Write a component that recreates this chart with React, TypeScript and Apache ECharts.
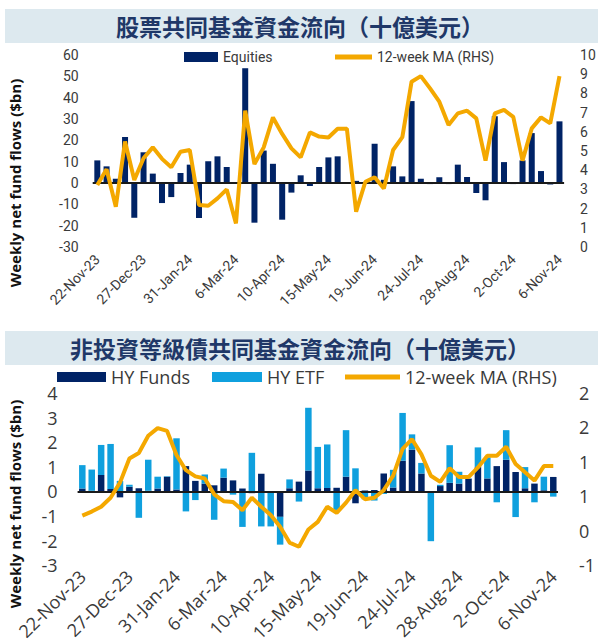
import React, { useEffect, useRef } from "react";
import * as echarts from "echarts";

const weeks = [
  "22-Nov-23", "29-Nov-23", "6-Dec-23", "13-Dec-23", "20-Dec-23", "27-Dec-23",
  "3-Jan-24", "10-Jan-24", "17-Jan-24", "24-Jan-24", "31-Jan-24",
  "7-Feb-24", "14-Feb-24", "21-Feb-24", "28-Feb-24",
  "6-Mar-24", "13-Mar-24", "20-Mar-24", "27-Mar-24",
  "3-Apr-24", "10-Apr-24", "17-Apr-24", "24-Apr-24",
  "1-May-24", "8-May-24", "15-May-24", "22-May-24", "29-May-24",
  "5-Jun-24", "12-Jun-24", "19-Jun-24", "26-Jun-24",
  "3-Jul-24", "10-Jul-24", "17-Jul-24", "24-Jul-24", "31-Jul-24",
  "7-Aug-24", "14-Aug-24", "21-Aug-24", "28-Aug-24",
  "4-Sep-24", "11-Sep-24", "18-Sep-24", "25-Sep-24",
  "2-Oct-24", "9-Oct-24", "16-Oct-24", "23-Oct-24", "30-Oct-24",
  "6-Nov-24",
];

const equities = [
  10.6, 7.8, 2, 21.6, -16.3, 14.4, 4.4, -9.4, -6.6, 4.7,
  8.6, -16.4, 10.2, 12.5, 7.5, 0.3, 53.8, -18.6, 15.2, 9,
  -17.2, -4.5, 3.6, -1.4, 7.5, 12, 12.5, 0.4, 1, 0,
  18.4, 1.5, 7.8, 3.1, 38.4, 2, -0.5, 2.7, -0.5, 8.6,
  2.8, -4.7, 8.1 * -1, 31.3, 9.8, -0.5, 10.6, 23.4, 5.6, -0.7,
  28.9,
];

const equitiesMA = [
  3.23, 4.05, 2.1, 5.49, 3.49, 4.62, 5.19, 4.59, 4.15, 4.96,
  5.05, 2.19, 2.15, 2.53, 3.0, 1.23, 7.1, 4.32, 5.19, 6.75,
  5.89, 5.14, 4.67, 5.97, 5.75, 5.7, 6.16, 6.16, 1.84, 3.4,
  3.63, 3.05, 5.05, 5.72, 8.61, 8.9, 8.26, 7.57, 6.35, 6.96,
  7.1, 6.7, 4.5, 6.96, 7.14, 6.78, 4.5, 6.18, 6.75, 6.44,
  8.9,
];

const hyFunds = [
  0.12, 0.03, 0.67, 0.1, -0.24, 0.19, 0.13, 0.03, 0.12, 0.6,
  0.08, 1.03, 0.43, 0.32, 0.25, 0.56, 0.45, 0.12, -0.07, 0.72,
  -0.03, -1.03, 0.13, 0.4, 0.85, 0.13, 0.14, 0.15, 0.6, -0.48,
  0.04, 0.06, 0.73, 0.16, 1.25, 1.7, 0.73, -0.05, 0.22, 0.35,
  0.32, 0.52, 0.99, 0.53, 1.03, 1.29, 0.79, 0.13, 0.32, 0.05,
  0.59,
];

const hyEtf = [
  0.95, 0.86, 1.22, 1.83, 0.43, 0.08, -1.07, 1.26, 0.48, 0.02,
  2.08, -0.81, -0.35, 0.37, -1.15, 0.37, -0.13, -1.44, 1.57, -1.42,
  -1.39, -1.13, 0.36, -0.41, 2.55, 1.68, 1.77, -0.75, 1.89, 0.94,
  -0.32, -0.37, -0.1, 0.72, 1.94, 0.62, 0.43, -1.97, 0.05, 1.53,
  0.48, 0.01, 0.8, 0.86, -0.44, 1.2, -1.04, 0.86, -0.44, 0.55,
  -0.21,
];

const hyMA = [
  0.22, 0.28, 0.35, 0.48, 0.7, 1.05, 1.13, 1.38, 1.49, 1.45,
  1.1, 0.88, 0.79, 0.76, 0.53, 0.43, 0.42, 0.3, 0.48, 0.35,
  0.23, 0.06, -0.17, -0.23, 0.02, 0.13, 0.35, 0.26, 0.41, 0.59,
  0.46, 0.48, 0.59, 0.8, 1.19, 1.33, 1.11, 0.8, 0.71, 0.91,
  0.78, 0.78, 0.92, 1.09, 1.09, 1.22, 0.97, 0.85, 0.73, 0.94,
  0.94,
];

const topTitle = "股票共同基金資金流向（十億美元）";
const bottomTitle = "非投資等級債共同基金資金流向（十億美元）";
const yName = "Weekly net fund flows ($bn)";
const nEquities = "Equities";
const nMA = "12-week MA (RHS)";
const nFunds = "HY Funds";
const nEtf = "HY ETF";

const NAVY = "#002366";
const LIGHT = "#0fa0de";
const ORANGE = "#f4a800";
const BAND = "#dde9ef";
const TITLE = "#1f3868";
const TXT = "#3a3a3a";

export default function App() {
  const ref = useRef<HTMLDivElement>(null);
  useEffect(() => {
    const chart = echarts.init(ref.current!, null, { renderer: "svg" });
    const topFont = "Roboto, sans-serif";
    const botFont = "'Open Sans', sans-serif";
    const cjk = "'Noto Sans CJK TC', sans-serif";
    const rhsFmt = (v: number) => String(Math.sign(v) * Math.round(Math.abs(v)));
    const zeroLine = {
      silent: true,
      symbol: ["none", "none"],
      label: { show: false },
      lineStyle: { color: "#1a1a1a", width: 2, type: "solid" },
      data: [{ yAxis: 0 }],
    };
    const topText = { fontFamily: topFont, fontSize: 14, color: TXT };
    const botText = { fontFamily: botFont, fontSize: 18, color: TXT };
    chart.setOption({
      animation: false,
      backgroundColor: "#fff",
      graphic: [
        { type: "rect", z: -10, shape: { x: 5, y: 9, width: 593, height: 34 }, style: { fill: BAND } },
        { type: "rect", z: -10, shape: { x: 5, y: 331, width: 593, height: 34 }, style: { fill: BAND } },
        {
          type: "text", x: 300, y: 26,
          style: { text: topTitle, fontSize: 23, fontWeight: "bold", fill: TITLE, fontFamily: cjk, align: "center", verticalAlign: "middle" },
        },
        {
          type: "text", x: 300, y: 348,
          style: { text: bottomTitle, fontSize: 23, fontWeight: "bold", fill: TITLE, fontFamily: cjk, align: "center", verticalAlign: "middle" },
        },
        {
          type: "text", x: 15, y: 183, rotation: Math.PI / 2,
          style: { text: yName, fontSize: 15, fontWeight: "bold", fill: "#111", fontFamily: botFont, align: "center", verticalAlign: "middle" },
        },
        {
          type: "text", x: 15, y: 504, rotation: Math.PI / 2,
          style: { text: yName, fontSize: 15, fontWeight: "bold", fill: "#111", fontFamily: botFont, align: "center", verticalAlign: "middle" },
        },
      ],
      legend: [
        { left: 184, top: 50, padding: 0, itemWidth: 34, itemHeight: 10, icon: "rect", data: [nEquities], textStyle: { ...topText, lineHeight: 14 } },
        { left: 335, top: 50, padding: 0, itemWidth: 37, itemHeight: 5, icon: "rect", data: [nMA], textStyle: { ...topText, lineHeight: 14 } },
        { left: 57, top: 367, padding: 0, itemWidth: 49, itemHeight: 10, icon: "rect", data: [nFunds], textStyle: { ...botText, lineHeight: 20 } },
        { left: 212, top: 367, padding: 0, itemWidth: 50, itemHeight: 10, icon: "rect", data: [nEtf], textStyle: { ...botText, lineHeight: 20 } },
        { left: 345, top: 367, padding: 0, itemWidth: 55, itemHeight: 5, icon: "rect", data: [nMA + " "], textStyle: { ...botText, lineHeight: 20 } },
      ],
      grid: [
        { left: 92.7, top: 55, width: 471.4, height: 192 },
        { left: 77.6, top: 393, width: 480.4, height: 175 },
      ],
      xAxis: [
        {
          gridIndex: 0, type: "category", data: weeks,
          axisLine: { show: false }, axisTick: { show: false },
          axisLabel: { interval: 4, rotate: 45, margin: 10, ...topText },
        },
        {
          gridIndex: 1, type: "category", data: weeks,
          axisLine: { show: false }, axisTick: { show: false },
          axisLabel: { interval: 4, rotate: 45, margin: 8, ...botText },
        },
      ],
      yAxis: [
        { gridIndex: 0, type: "value", min: -30, max: 60, interval: 10, splitLine: { show: false }, axisLine: { show: false }, axisTick: { show: false }, axisLabel: { margin: 14, ...topText } },
        { gridIndex: 0, type: "value", position: "right", min: 0, max: 10, interval: 1, splitLine: { show: false }, axisLine: { show: false }, axisTick: { show: false }, axisLabel: { margin: 16, ...topText } },
        { gridIndex: 1, type: "value", min: -3, max: 4, interval: 1, splitLine: { show: false }, axisLine: { show: false }, axisTick: { show: false }, axisLabel: { margin: 20, ...botText } },
        { gridIndex: 1, type: "value", position: "right", min: -0.5, max: 2, interval: 0.5, splitLine: { show: false }, axisLine: { show: false }, axisTick: { show: false }, axisLabel: { margin: 21, formatter: rhsFmt, ...botText } },
      ],
      series: [
        {
          name: nEquities, type: "bar", xAxisIndex: 0, yAxisIndex: 0, data: equities,
          barWidth: 6, itemStyle: { color: NAVY }, markLine: zeroLine,
        },
        {
          name: nMA, type: "line", xAxisIndex: 0, yAxisIndex: 1, data: equitiesMA,
          symbol: "none", z: 5, itemStyle: { color: ORANGE }, lineStyle: { color: ORANGE, width: 4 },
        },
        {
          name: nFunds, type: "bar", xAxisIndex: 1, yAxisIndex: 2, data: hyFunds, stack: "hy",
          barWidth: 6.5, itemStyle: { color: NAVY }, markLine: zeroLine,
        },
        {
          name: nEtf, type: "bar", xAxisIndex: 1, yAxisIndex: 2, data: hyEtf, stack: "hy",
          barWidth: 6.5, itemStyle: { color: LIGHT },
        },
        {
          name: nMA + " ", type: "line", xAxisIndex: 1, yAxisIndex: 3, data: hyMA,
          symbol: "none", z: 5, itemStyle: { color: ORANGE }, lineStyle: { color: ORANGE, width: 4 },
        },
      ],
    });
    return () => chart.dispose();
  }, []);
  return (
    <div
      ref={ref}
      style={{ position: "fixed", left: 0, top: 0, width: 602, height: 644, background: "#fff" }}
    />
  );
}
